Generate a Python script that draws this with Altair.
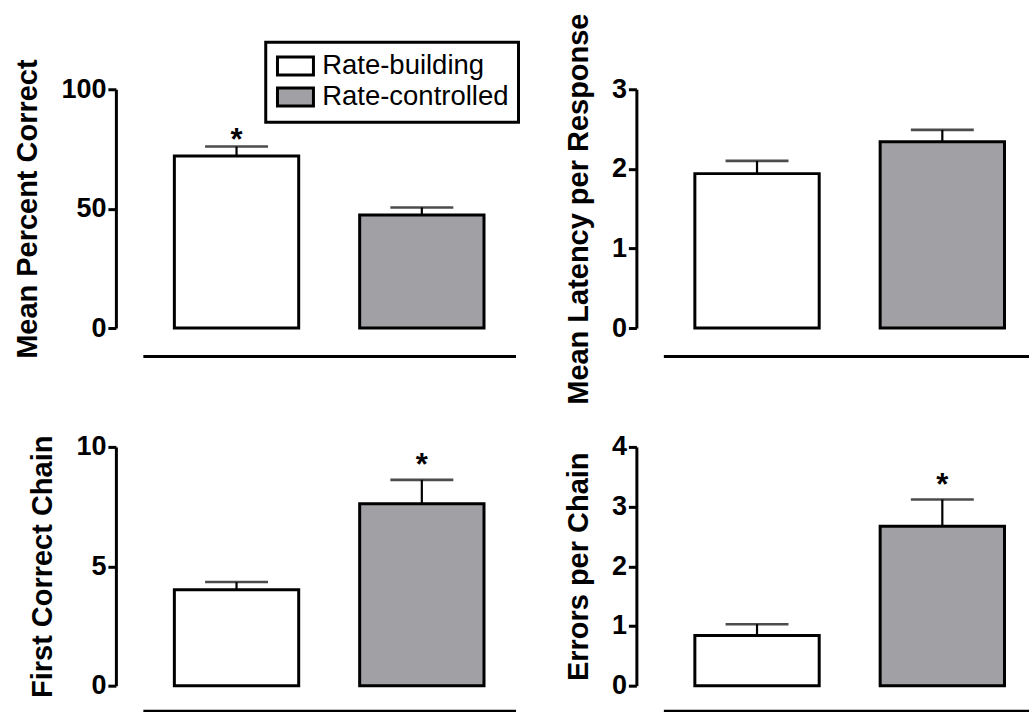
import altair as alt
import pandas as pd

# Two training conditions compared in every panel
groups = ["Rate-building", "Rate-controlled"]

# Mean percent correct
pct_mean = [72.0, 47.3]
pct_sem = [4.0, 3.2]
pct_sig = [True, False]

# Mean latency per response
lat_mean = [1.94, 2.34]
lat_sem = [0.16, 0.15]
lat_sig = [False, False]

# First correct chain
first_mean = [4.02, 7.62]
first_sem = [0.32, 1.0]
first_sig = [False, True]

# Errors per chain
err_mean = [0.84, 2.67]
err_sem = [0.19, 0.45]
err_sig = [False, True]

FONT = "Liberation Sans"
GREY = "#A1A0A5"
PLOT_W = 373
PLOT_H = 239


def panel(title, means, sems, sig, domain, ticks, x_offset, star_dy, show_legend=False):
    df = pd.DataFrame({"group": groups, "mean": means, "sem": sems, "sig": sig})
    df["top"] = df["mean"] + df["sem"]

    x_scale = alt.Scale(domain=groups, paddingInner=0.329, paddingOuter=0.17)
    x_axis = alt.Axis(labels=False, ticks=False, title=None, domain=True, offset=x_offset)

    def x_enc():
        return alt.X("group:N", sort=groups, scale=x_scale, axis=x_axis)

    y_scale = alt.Scale(domain=domain, nice=False, zero=True)
    y_axis = alt.Axis(values=ticks, offset=27, title=title, format="d")

    def y_enc(field):
        return alt.Y(f"{field}:Q", scale=y_scale, axis=y_axis, title=title)

    if show_legend:
        # wide swatch: the path spans twice sqrt(size) across and sqrt(size) tall
        legend = alt.Legend(
            title=None,
            orient="none",
            legendX=123,
            legendY=-47,
            direction="vertical",
            symbolType="M-2,-1H2V1H-2Z",
            symbolSize=324,
            symbolOffset=6,
            symbolStrokeColor="black",
            symbolStrokeWidth=3,
            labelFont=FONT,
            labelFontSize=27.5,
            labelColor="black",
            labelOffset=13,
            labelLimit=400,
            padding=10,
            rowPadding=0,
            strokeColor="black",
            fillColor="white",
        )
    else:
        legend = None

    base = alt.Chart(df)

    stems = base.mark_rule(color="black", strokeWidth=2.2).encode(
        x=x_enc(), y=y_enc("mean"), y2="top:Q"
    )
    bars = base.mark_bar(stroke="black", strokeWidth=3).encode(
        x=x_enc(),
        y=y_enc("mean"),
        color=alt.Color(
            "group:N",
            sort=groups,
            scale=alt.Scale(domain=groups, range=["white", GREY]),
            legend=legend,
        ),
    )
    caps = base.mark_tick(color="black", orient="horizontal", size=63, thickness=2.6).encode(
        x=x_enc(), y=y_enc("top")
    )
    stars = (
        base.transform_filter(alt.datum.sig == True)
        .mark_text(text="*", font=FONT, fontSize=31, fontWeight="bold", color="black",
                   baseline="alphabetic", dy=star_dy)
        .encode(x=x_enc(), y=y_enc("top"))
    )
    return alt.layer(stems, bars, caps, stars).properties(width=PLOT_W, height=PLOT_H)


p1 = panel("Mean Percent Correct", pct_mean, pct_sem, pct_sig, [0, 100], [0, 50, 100], 28, 3, True)
p2 = panel("Mean Latency per Response", lat_mean, lat_sem, lat_sig, [0, 3], [0, 1, 2, 3], 28, 0)
p3 = panel("First Correct Chain", first_mean, first_sem, first_sig, [0, 10], [0, 5, 10], 25, -5)
p4 = panel("Errors per Chain", err_mean, err_sem, err_sig, [0, 4], [0, 1, 2, 3, 4], 25, -4)

chart = (
    alt.concat(p1, p2, p3, p4, columns=2, spacing={"row": 119, "column": 148}, bounds="flush")
    .resolve_scale(color="independent")
    .properties(padding={"left": 13, "top": 12, "right": -7, "bottom": 1}, background="white")
    .configure_view(stroke=None)
    .configure_axis(
        grid=False,
        domainColor="black",
        domainWidth=3,
        tickColor="black",
        tickWidth=3,
        tickSize=8,
        labelFont=FONT,
        labelFontSize=27,
        labelFontWeight="bold",
        labelColor="black",
        labelPadding=2,
        titleFont=FONT,
        titleFontSize=29,
        titleFontWeight="bold",
        titleColor="black",
        titlePadding=18,
    )
    .configure_legend(strokeWidth=3)
)

chart.save("out.html", embed_options={"renderer": "svg", "actions": False})
